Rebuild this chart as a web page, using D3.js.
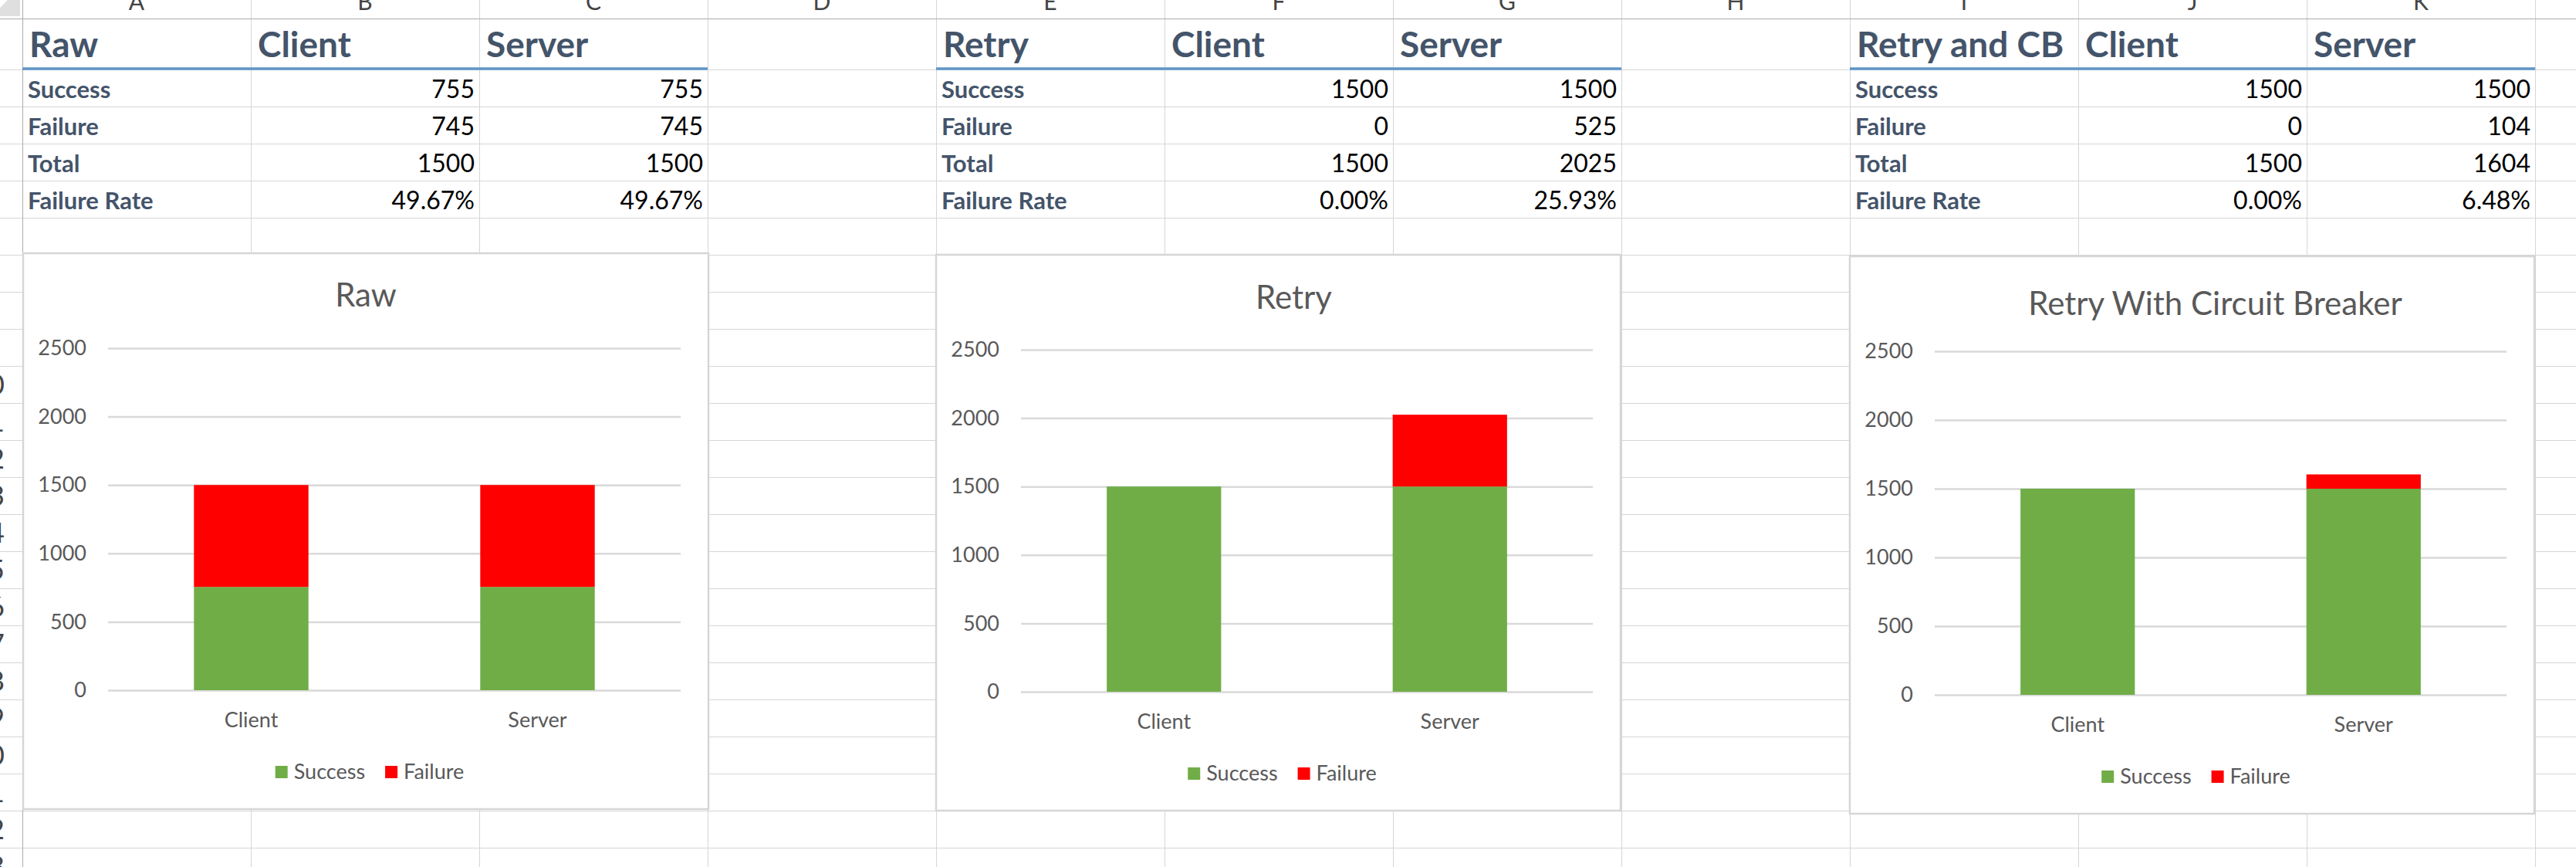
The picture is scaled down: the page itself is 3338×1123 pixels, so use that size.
<!DOCTYPE html>
<html>
<head>
<meta charset="utf-8">
<script src="https://cdn.jsdelivr.net/npm/d3@7"></script>
<style>
  body { margin: 0; background: #fff; overflow: hidden; }
  text { font-family: Lato, "Open Sans", sans-serif; }
</style>
</head>
<body>
<svg id="sheet"></svg>
<script>
// data read from the sheet
var categories = ["Client", "Server"];
var seriesNames = ["Success", "Failure"];
var seriesColors = ["#70AD47", "#FF0000"];

var rawSuccess = [755, 755];
var rawFailure = [745, 745];
var retrySuccess = [1500, 1500];
var retryFailure = [0, 525];
var cbSuccess = [1500, 1500];
var cbFailure = [0, 104];

var tableTitles = ["Raw", "Retry", "Retry and CB"];
var chartTitles = ["Raw", "Retry", "Retry With Circuit Breaker"];
var rowLabels = ["Success", "Failure", "Total", "Failure Rate"];
var yTicks = [0, 500, 1000, 1500, 2000, 2500];
var columnLetters = ["A", "B", "C", "D", "E", "F", "G", "H", "I", "J", "K"];

var W = 3338, H = 1123;
var svg = d3.select("#sheet").attr("width", W).attr("height", H);

var colX = function(i) { return 29 + 296 * i; };
var rowTop = function(r) { return 90 + 48 * r; };   // r = 0 is sheet row 2
var fmtPct = d3.format(".2%");

// ---- sheet grid ----
var grid = svg.append("g").attr("shape-rendering", "crispEdges");
grid.selectAll(".hl").data(d3.range(0, 23)).enter().append("line")
    .attr("x1", 0).attr("x2", W)
    .attr("y1", function(d) { return rowTop(d) + 0.5; })
    .attr("y2", function(d) { return rowTop(d) + 0.5; })
    .attr("stroke", "#d6d6d6");
grid.selectAll(".vl").data(d3.range(1, 12)).enter().append("line")
    .attr("x1", function(d) { return colX(d) + 0.5; })
    .attr("x2", function(d) { return colX(d) + 0.5; })
    .attr("y1", 0).attr("y2", H)
    .attr("stroke", "#d6d6d6");
grid.append("line").attr("x1", 0).attr("x2", W).attr("y1", 24.5).attr("y2", 24.5).attr("stroke", "#ababab");
grid.append("line").attr("x1", 29.5).attr("x2", 29.5).attr("y1", 0).attr("y2", H).attr("stroke", "#ababab");
svg.append("polygon").attr("points", "10,0 26,0 26,21 0,21 0,10").attr("fill", "#dfdfdf");

// column letters (clipped at top) and row numbers (clipped at left), as in the screenshot
svg.selectAll(".colLetter").data(columnLetters).enter().append("text")
    .attr("x", function(d, i) { return colX(i) + 148; })
    .attr("y", 13)
    .attr("text-anchor", "middle")
    .attr("font-size", 30)
    .attr("fill", "#444")
    .text(function(d) { return d; });
svg.selectAll(".rowNum").data(d3.range(2, 25)).enter().append("text")
    .attr("x", -15)
    .attr("y", function(d) { return rowTop(d - 2) + 24 + 13; })
    .attr("text-anchor", "middle")
    .attr("font-size", 36)
    .attr("fill", "#444")
    .text(function(d) { return d; });

// ---- tables ----
var tableData = [
  { s: rawSuccess, f: rawFailure },
  { s: retrySuccess, f: retryFailure },
  { s: cbSuccess, f: cbFailure }
];
tableData.forEach(function(t, ti) {
  var c0 = ti * 4;
  var g = svg.append("g");
  var heads = [tableTitles[ti]].concat(categories);
  g.selectAll(".head").data(heads).enter().append("text")
      .attr("x", function(d, i) { return colX(c0 + i) + 9; })
      .attr("y", 74)
      .attr("font-size", 46)
      .attr("font-weight", "bold")
      .attr("fill", "#44546A")
      .text(function(d) { return d; });
  g.append("line")
      .attr("x1", colX(c0)).attr("x2", colX(c0 + 3))
      .attr("y1", 89).attr("y2", 89)
      .attr("stroke", "#5F96C8").attr("stroke-width", 3.5);

  var totals = t.s.map(function(v, i) { return v + t.f[i]; });
  var rates = t.f.map(function(v, i) { return fmtPct(v / totals[i]); });
  var rows = [t.s, t.f, totals, rates];
  rows.forEach(function(vals, r) {
    var base = rowTop(r) + 37;
    g.append("text")
        .attr("x", colX(c0) + 7).attr("y", base)
        .attr("font-size", 31).attr("font-weight", "bold")
        .attr("fill", "#44546A")
        .text(rowLabels[r]);
    g.selectAll(".v" + r).data(vals).enter().append("text")
        .attr("x", function(d, i) { return colX(c0 + 2 + i) - 6; })
        .attr("y", base)
        .attr("text-anchor", "end")
        .attr("font-size", 32)
        .attr("fill", "#000")
        .text(function(d) { return d; });
  });
});

// ---- charts ----
var frames = [
  { x: 30, y: 328, w: 888, h: 720, titleDx: 0, titleDy: 69 },
  { x: 1213, y: 330, w: 887, h: 720, titleDx: 20, titleDy: 70 },
  { x: 2397, y: 332, w: 887, h: 722, titleDx: 30, titleDy: 76 }
];

tableData.forEach(function(t, ci) {
  var f = frames[ci];
  var g = svg.append("g");
  g.append("rect")
      .attr("x", f.x).attr("y", f.y).attr("width", f.w).attr("height", f.h)
      .attr("fill", "#fff").attr("stroke", "#d6d6d6").attr("stroke-width", 2.5);

  var left = f.x + 110, right = f.x + f.w - 36;
  var x = d3.scaleBand().domain(categories).range([left, right])
      .paddingInner(0.6).paddingOuter(0.3);
  var y = d3.scaleLinear().domain([0, 2500]).range([f.y + f.h - 154, f.y + 123]);

  g.append("text")
      .attr("x", f.x + f.w / 2 + f.titleDx).attr("y", f.y + f.titleDy)
      .attr("text-anchor", "middle")
      .attr("font-size", 42).attr("fill", "#595959")
      .text(chartTitles[ci]);

  var yAxis = d3.axisLeft(y).tickValues(yTicks).tickFormat(d3.format("d"))
      .tickSize(-(right - left)).tickPadding(28);
  var ya = g.append("g").attr("transform", "translate(" + left + ",0)").call(yAxis);
  ya.select(".domain").remove();
  ya.selectAll("line").attr("stroke", "#d9d9d9").attr("stroke-width", 2.5);
  ya.selectAll("text").attr("font-size", 27).attr("fill", "#595959").attr("font-family", null);

  var rows = categories.map(function(c, i) { return { cat: c, Success: t.s[i], Failure: t.f[i] }; });
  var stacked = d3.stack().keys(seriesNames)(rows);
  g.selectAll(".series").data(stacked).enter().append("g")
      .attr("fill", function(d, i) { return seriesColors[i]; })
    .selectAll("rect").data(function(d) { return d; }).enter().append("rect")
      .attr("x", function(d) { return x(d.data.cat); })
      .attr("width", x.bandwidth())
      .attr("y", function(d) { return y(d[1]); })
      .attr("height", function(d) { return y(d[0]) - y(d[1]); });

  var xa = g.append("g").attr("transform", "translate(0," + y(0) + ")")
      .call(d3.axisBottom(x).tickSize(0));
  xa.select(".domain").remove();
  xa.selectAll("text").attr("dy", null).attr("y", 48)
      .attr("font-size", 27).attr("fill", "#595959").attr("font-family", null);

  // legend
  var leg = g.append("g");
  var lx = 0;
  seriesNames.forEach(function(name, i) {
    var item = leg.append("g").attr("transform", "translate(" + lx + ",0)");
    item.append("rect").attr("x", 0).attr("y", -8).attr("width", 16).attr("height", 16)
        .attr("fill", seriesColors[i]);
    var tx = item.append("text").attr("x", 24).attr("y", 9)
        .attr("font-size", 27).attr("fill", "#595959").text(name);
    lx += 24 + tx.node().getComputedTextLength() + 26;
  });
  var lw = lx - 26;
  leg.attr("transform", "translate(" + (f.x + f.w / 2 + 5 - lw / 2) + "," + (y(0) + 106) + ")");
});
</script>
</body>
</html>
